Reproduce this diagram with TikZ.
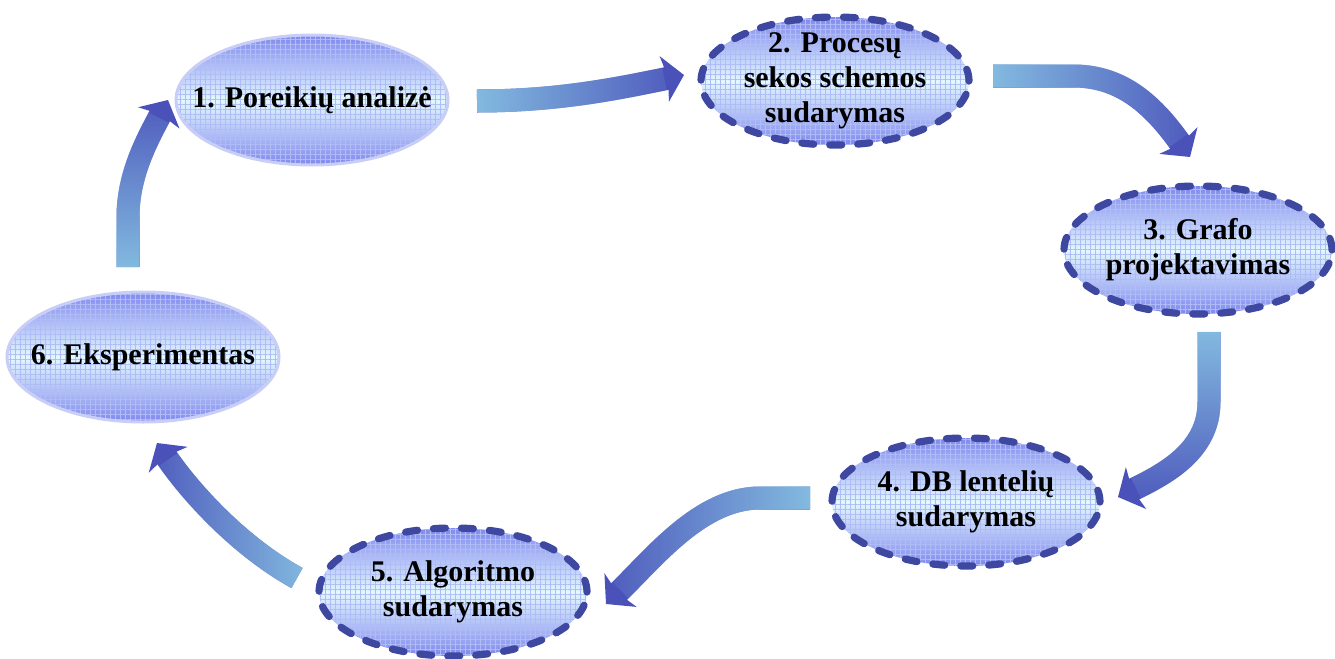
\documentclass[tikz,border=0pt]{standalone}
\usepackage{fontspec}
\setmainfont{Liberation Serif}
\usepackage{xcolor}
\usepackage{tikz}
\usetikzlibrary{shapes,arrows,positioning,fit,calc,arrows.meta,fadings,patterns.meta}

\definecolor{ellblue}{RGB}{128,136,238}
\definecolor{elllight}{RGB}{226,249,255}
\definecolor{gridblue}{RGB}{176,188,246}
\definecolor{dashblue}{RGB}{62,72,160}
\definecolor{arrdark}{RGB}{74,82,186}
\definecolor{arrlight}{RGB}{134,192,226}
\definecolor{softrim}{RGB}{200,206,246}

\begin{document}
\begin{tikzpicture}[x=0.5pt,y=-0.5pt,
    phase/.style={ellipse, inner xsep=-70pt, inner ysep=-40pt, outer sep=0pt, align=center,
        font=\bfseries\fontsize{15}{17.5}\selectfont,
        top color=ellblue, bottom color=ellblue, middle color=elllight,
        postaction={pattern={Hatch[distance=2.5pt,line width=0.45pt]}, pattern color=gridblue}},
    plainphase/.style={phase, minimum width=136pt, minimum height=65pt,
        postaction={draw=softrim, line width=1.5pt}},
    dashphase/.style={phase, minimum width=134pt, minimum height=64pt,
        postaction={draw=dashblue, line width=3.6pt, line cap=round, dash pattern=on 6pt off 8pt}},
    bigarrow/.style={draw=arrdark, line width=11.5pt, -{Stealth[length=10pt,width=23pt,inset=2pt]}},
    glow/.style={draw=arrlight, line width=11.5pt, shorten >=10pt}]

    \useasboundingbox (0,0) rectangle (1335,659);

    % Etapai
    \node[plainphase] (analize) at (312,100) {1. Poreikių analizė};
    \node[dashphase] (schema) at (835,81) {2. Procesų\\sekos schemos\\sudarymas};
    \node[dashphase] (grafas) at (1198,250) {3. Grafo\\projektavimas};
    \node[dashphase] (lenteles) at (966,502) {4. DB lentelių\\sudarymas};
    \node[dashphase] (algoritmas) at (453,592) {5. Algoritmo\\sudarymas};
    \node[plainphase] (eksperimentas) at (143,357) {6. Eksperimentas};

    % Rodykliu galai
    \coordinate (a12) at ($(analize.east)+(29,1)$);
    \coordinate (b12) at ($(schema.west)+(-17,-6)$);
    \coordinate (a23) at ($(schema.east)+(24,-5)$);
    \coordinate (b23) at ($(grafas.north)+(-8,-29)$);
    \coordinate (a34) at ($(grafas.south)+(11,18)$);
    \coordinate (b34) at ($(lenteles.east)+(18,-5)$);
    \coordinate (a45) at ($(lenteles.west)+(-22,-4)$);
    \coordinate (b45) at ($(algoritmas.east)+(19,12)$);
    \coordinate (a56) at ($(algoritmas.west)+(-22,-14)$);
    \coordinate (b56) at ($(eksperimentas.south)+(14,21)$);
    \coordinate (a61) at ($(eksperimentas.north)+(-15,-25)$);
    \coordinate (b61) at ($(analize.west)+(-8,0)$);

    % 1 -> 2
    \draw[bigarrow] (a12) .. controls +(83,0) and +(-64,13) .. (b12);
    \draw[glow, path fading=east] ($(a12)+(0,-40)$) ($(a12)+(0,40)$)
        (a12) .. controls +(83,0) and +(-64,13) .. (b12);

    % 2 -> 3
    \draw[bigarrow] (a23) -- ++(80,0) .. controls +(45,0) and +(-40,-57) .. (b23);
    \draw[glow, path fading=east] ($(a23)+(0,-20)$) ($(b23)+(10,10)$)
        (a23) -- ++(80,0) .. controls +(45,0) and +(-40,-57) .. (b23);

    % 3 -> 4
    \draw[bigarrow] (a34) -- ++(0,70) .. controls +(0,50) and +(45,-22) .. (b34);
    \draw[glow, path fading=south] ($(a34)+(16,0)$) ($(b34)+(-10,10)$)
        (a34) -- ++(0,70) .. controls +(0,50) and +(45,-22) .. (b34);

    % 4 -> 5
    \draw[bigarrow] (a45) -- ++(-50,0) .. controls +(-60,0) and +(47,-45) .. (b45);
    \draw[glow, path fading=west] ($(a45)+(0,-20)$) ($(b45)+(-10,10)$)
        (a45) -- ++(-50,0) .. controls +(-60,0) and +(47,-45) .. (b45);

    % 5 -> 6
    \draw[bigarrow] (a56) .. controls +(-60,-33) and +(30,45) .. (b56);
    \draw[glow, path fading=west] ($(a56)+(10,15)$) ($(b56)+(-12,-5)$)
        (a56) .. controls +(-60,-33) and +(30,45) .. (b56);

    % 6 -> 1
    \draw[bigarrow] (a61) -- ++(0,-50) .. controls +(0,-45) and +(-18,35) .. (b61);
    \draw[glow, path fading=north] ($(a61)+(-14,0)$) ($(b61)+(10,-5)$)
        (a61) -- ++(0,-50) .. controls +(0,-45) and +(-18,35) .. (b61);
\end{tikzpicture}
\end{document}
